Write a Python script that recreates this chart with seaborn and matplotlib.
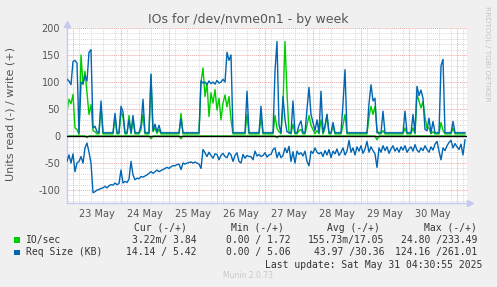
import matplotlib
matplotlib.use("Agg")
import matplotlib.pyplot as plt
import pandas as pd
import seaborn as sns
from matplotlib.patches import Rectangle

# ---------------- data (hourly samples, starting 22 May 21:00) ----------------
START = "2025-05-22 21:00"

write_io = [
    45, 68, 60, 77, 15, 12, 3, 150, 95, 120,
    80, 40, 58, 10, 8, 4, 4, 55, 4, 4,
    4, 4, 4, 4, 35, 4, 4, 45, 35, 4,
    4, 38, 4, 30, 4, 4, 4, 12, 40, 4,
    4, 4, 112, 8, 15, 5, 12, 4, 4, 4,
    4, 4, 4, 4, 4, 4, 4, 42, 4, 4,
    4, 4, 4, 4, 4, 4, 4, 100, 126, 73,
    98, 36, 80, 61, 86, 48, 70, 30, 61, 76,
    54, 73, 30, 4, 4, 4, 4, 4, 4, 4,
    40, 4, 4, 4, 4, 4, 4, 35, 4, 4,
    4, 4, 4, 4, 38, 14, 8, 4, 60, 175,
    80, 6, 4, 22, 4, 4, 10, 12, 4, 4,
    20, 38, 20, 12, 4, 10, 4, 30, 4, 15,
    40, 4, 4, 20, 4, 4, 4, 4, 20, 40,
    4, 4, 4, 4, 4, 4, 4, 4, 4, 4,
    4, 35, 55, 40, 55, 12, 4, 4, 10, 4,
    4, 4, 4, 4, 4, 4, 4, 4, 4, 15,
    4, 4, 4, 15, 4, 77, 65, 52, 64, 35,
    15, 15, 4, 8, 4, 4, 4, 25, 10, 4,
    4, 4, 4, 15, 4, 4, 4, 4, 4, 4,
]

write_req = [
    105, 102, 95, 138, 140, 135, 6, 100, 97, 112,
    102, 155, 160, 15, 18, 8, 6, 65, 6, 6,
    6, 6, 6, 6, 42, 6, 6, 55, 45, 6,
    6, 30, 6, 38, 6, 6, 6, 20, 68, 6,
    6, 6, 115, 10, 22, 8, 20, 6, 6, 6,
    6, 6, 6, 6, 6, 6, 6, 32, 6, 6,
    6, 6, 6, 6, 6, 6, 6, 102, 98, 100,
    95, 102, 97, 100, 96, 103, 98, 100, 105, 100,
    155, 140, 150, 6, 6, 6, 6, 6, 6, 6,
    83, 6, 6, 6, 6, 6, 6, 55, 6, 6,
    6, 6, 6, 6, 120, 175, 20, 6, 73, 30,
    8, 6, 6, 65, 6, 6, 20, 28, 6, 6,
    50, 90, 40, 25, 10, 30, 6, 83, 6, 20,
    40, 6, 6, 25, 6, 6, 6, 6, 60, 123,
    6, 6, 6, 6, 6, 6, 6, 6, 6, 6,
    6, 60, 95, 65, 70, 6, 6, 6, 46, 6,
    6, 6, 6, 6, 6, 6, 6, 6, 6, 46,
    6, 6, 6, 40, 6, 92, 75, 85, 70, 12,
    10, 33, 6, 27, 6, 6, 6, 130, 142, 6,
    6, 6, 6, 27, 6, 6, 6, 6, 6, 6,
]

read_io = [
    0, 0, 0, 0, 0, 0, 0, 0, 0, 0,
    -3, 0, 0, 0, 0, 0, 0, 0, 0, 0,
    0, 0, 0, 0, 0, 0, 0, 0, 0, 0,
    0, 0, 0, 0, 0, 0, 0, 0, 0, 0,
    0, 0, -5, 0, 0, 0, 0, 0, 0, 0,
    0, 0, 0, 0, 0, 0, 0, -5, 0, 0,
    0, 0, 0, 0, 0, 0, 0, 0, 0, 0,
    0, 0, 0, 0, 0, 0, 0, 0, 0, 0,
    0, 0, 0, 0, 0, 0, 0, 0, 0, 0,
    0, 0, 0, 0, 0, 0, 0, 0, 0, 0,
    0, 0, 0, 0, 0, -3, 0, 0, 0, 0,
    0, 0, 0, 0, 0, 0, 0, 0, 0, 0,
    0, 0, 0, 0, 0, 0, 0, 0, 0, 0,
    0, 0, 0, 0, 0, 0, 0, 0, 0, 0,
    0, 0, 0, 0, 0, 0, 0, 0, 0, 0,
    0, 0, 0, 0, 0, -7, 0, 0, 0, 0,
    0, 0, 0, 0, 0, 0, 0, 0, 0, 0,
    0, 0, 0, 0, 0, 0, 0, 0, 0, 0,
    0, 0, 0, 0, 0, 0, 0, 0, 0, 0,
    0, 0, 0, 0, 0, 0, 0, 0, 0, 0,
]

read_req = [
    -47, -35, -50, -33, -66, -50, -47, -38, -50, -22,
    -13, -30, -50, -105, -103, -100, -99, -97, -96, -93,
    -96, -92, -90, -91, -87, -90, -88, -63, -87, -84,
    -86, -80, -47, -72, -81, -78, -79, -75, -76, -74,
    -72, -69, -66, -69, -66, -63, -66, -64, -62, -60,
    -58, -60, -57, -55, -55, -53, -52, -62, -50, -52,
    -50, -49, -48, -50, -48, -50, -52, -60, -25, -31,
    -38, -30, -36, -41, -33, -34, -44, -36, -32, -38,
    -40, -31, -35, -47, -36, -31, -47, -50, -34, -41,
    -36, -38, -38, -44, -28, -37, -34, -38, -36, -31,
    -39, -35, -34, -25, -22, -40, -30, -40, -36, -22,
    -31, -19, -47, -29, -50, -28, -34, -31, -37, -28,
    -47, -55, -28, -32, -22, -30, -33, -30, -38, -27,
    -35, -25, -40, -28, -33, -24, -36, -30, -22, -35,
    -28, -8, -30, -22, -35, -20, -28, -18, -32, -24,
    -10, -30, -20, -27, -33, -58, -22, -30, -18, -27,
    -20, -32, -24, -18, -28, -22, -30, -20, -26, -18,
    -30, -24, -20, -28, -16, -26, -30, -22, -27, -18,
    -25, -30, -20, -26, -15, -10, -28, -44, -22, -27,
    -18, -12, -8, -22, -14, -20, -25, -15, -35, -7,
]

day_labels = ["23 May", "24 May", "25 May", "26 May",
              "27 May", "28 May", "29 May", "30 May"]
y_ticks = [-100, -50, 0, 50, 100, 150, 200]

series_names = ["IO/sec", "Req Size (KB)"]
cur_vals = ["3.22m/ 3.84", "14.14 / 5.42"]
min_vals = ["0.00 / 1.72", "0.00 / 5.06"]
avg_vals = ["155.73m/17.05", "43.97 /30.36"]
max_vals = ["24.80 /233.49", "124.16 /261.01"]

TITLE = "IOs for /dev/nvme0n1 - by week"
YLABEL = "Units read (-) / write (+)"
LAST_UPDATE = "Last update: Sat May 31 04:30:55 2025"

# ---------------- styling ----------------
GREEN = "#00CC00"
BLUE = "#0066B3"
BG = "#F0F0F0"
AXIS_COL = "#C5C9F0"
MINOR_GRID = "#D8D8D8"
MAJOR_GRID = "#E8A8A8"
TXT = "#555555"
LEG_TXT = "#333333"

W, H = 497, 287
fig = plt.figure(figsize=(W / 100, H / 100), dpi=100, facecolor=BG)


def px(x, y):
    return x / W, 1 - y / H


left, right, top, bottom = 67, 467, 28, 203
ax = fig.add_axes([left / W, 1 - bottom / H, (right - left) / W, (bottom - top) / H])
ax.set_facecolor("white")

times = pd.date_range(START, periods=len(write_io), freq="h")
t0 = pd.Timestamp(START)
t1 = t0 + pd.Timedelta(hours=200)
ax.set_xlim(t0, t1)
ax.set_ylim(-124, 200)

# grid
for t in pd.date_range("2025-05-23 03:00", t1, freq="6h"):
    if t.hour != 0:
        ax.axvline(t, color=MINOR_GRID, lw=0.7, ls=(0, (1, 1)), zorder=0.5)
for t in pd.date_range("2025-05-23 00:00", t1, freq="D"):
    ax.axvline(t, color=MAJOR_GRID, lw=0.7, ls=(0, (1, 1)), zorder=0.6)
for v in range(-120, 201, 10):
    if v % 50 != 0:
        ax.axhline(v, color=MINOR_GRID, lw=0.7, ls=(0, (1, 1)), zorder=0.5)
    elif v != 0:
        ax.axhline(v, color=MAJOR_GRID, lw=0.7, ls=(0, (1, 1)), zorder=0.6)

# series
df = pd.DataFrame({"time": times, "write_io": write_io, "write_req": write_req,
                   "read_io": read_io, "read_req": read_req})
sns.lineplot(data=df, x="time", y="read_io", ax=ax, color=GREEN, lw=1.0, estimator=None, zorder=2)
sns.lineplot(data=df, x="time", y="write_io", ax=ax, color=GREEN, lw=1.0, estimator=None, zorder=2)
sns.lineplot(data=df, x="time", y="read_req", ax=ax, color=BLUE, lw=1.0, estimator=None, zorder=3)
sns.lineplot(data=df, x="time", y="write_req", ax=ax, color=BLUE, lw=1.0, estimator=None, zorder=3)
ax.axhline(0, color="black", lw=1.0, zorder=4)

# axes
for s in ["top", "right"]:
    ax.spines[s].set_visible(False)
for s in ["left", "bottom"]:
    ax.spines[s].set_color(AXIS_COL)
    ax.spines[s].set_linewidth(1.0)
ax.plot([0, 0], [1.0, 1.02], transform=ax.transAxes, color=AXIS_COL, lw=1, clip_on=False)
ax.plot([0], [1.025], marker="^", ms=4, color=AXIS_COL, transform=ax.transAxes, clip_on=False)
ax.plot([1.0, 1.006], [0, 0], transform=ax.transAxes, color=AXIS_COL, lw=1, clip_on=False)
ax.plot([1.008], [0], marker=">", ms=4, color=AXIS_COL, transform=ax.transAxes, clip_on=False)

ax.set_xticks(pd.date_range("2025-05-23 12:00", periods=len(day_labels), freq="D"))
ax.set_xticklabels(day_labels)
ax.set_yticks(y_ticks)
ax.set_yticklabels([str(v) for v in y_ticks])
ax.tick_params(axis="both", length=0, labelsize=7, labelcolor=TXT)
ax.tick_params(axis="y", pad=5)
ax.tick_params(axis="x", pad=4)
ax.set_xlabel("")
ax.set_ylabel("")

# texts
fig.text(*px(248.5, 19.5), TITLE, ha="center", va="center", fontsize=9, color=TXT)
fig.text(*px(11, 114.5), YLABEL, ha="center", va="center", rotation=90, fontsize=8, color=TXT)
fig.text(*px(487, 53.5), "RRDTOOL / TOBI OETIKER", ha="center", va="center", rotation=270,
         fontsize=5.4, color="#C4C4C4")

mono = dict(family="DejaVu Sans Mono", fontsize=7, color=LEG_TXT, va="center")
fig.text(*px(186.7, 228), "Cur (-/+)", ha="right", **mono)
fig.text(*px(284.3, 228), "Min (-/+)", ha="right", **mono)
fig.text(*px(380, 228), "Avg (-/+)", ha="right", **mono)
fig.text(*px(476.7, 228), "Max (-/+)", ha="right", **mono)

colors = [GREEN, BLUE]
for i, name in enumerate(series_names):
    yc = 239.5 + 12.5 * i
    fig.patches.append(Rectangle(px(14, yc + 3), 5.5 / W, 5.5 / H, transform=fig.transFigure,
                                 facecolor=colors[i], edgecolor="none"))
    fig.text(*px(26, yc), name, ha="left", **mono)
    fig.text(*px(196.7, yc), cur_vals[i], ha="right", **mono)
    fig.text(*px(290.7, yc), min_vals[i], ha="right", **mono)
    fig.text(*px(384, yc), avg_vals[i], ha="right", **mono)
    fig.text(*px(477, yc), max_vals[i], ha="right", **mono)

fig.text(*px(482.3, 264.5), LAST_UPDATE, ha="right", **mono)
fig.text(*px(223, 276), "Munin 2.0.73", ha="left", va="center", fontsize=5.5, color="#C8C8C8")

fig.savefig("out.png", dpi=100, facecolor=BG)
